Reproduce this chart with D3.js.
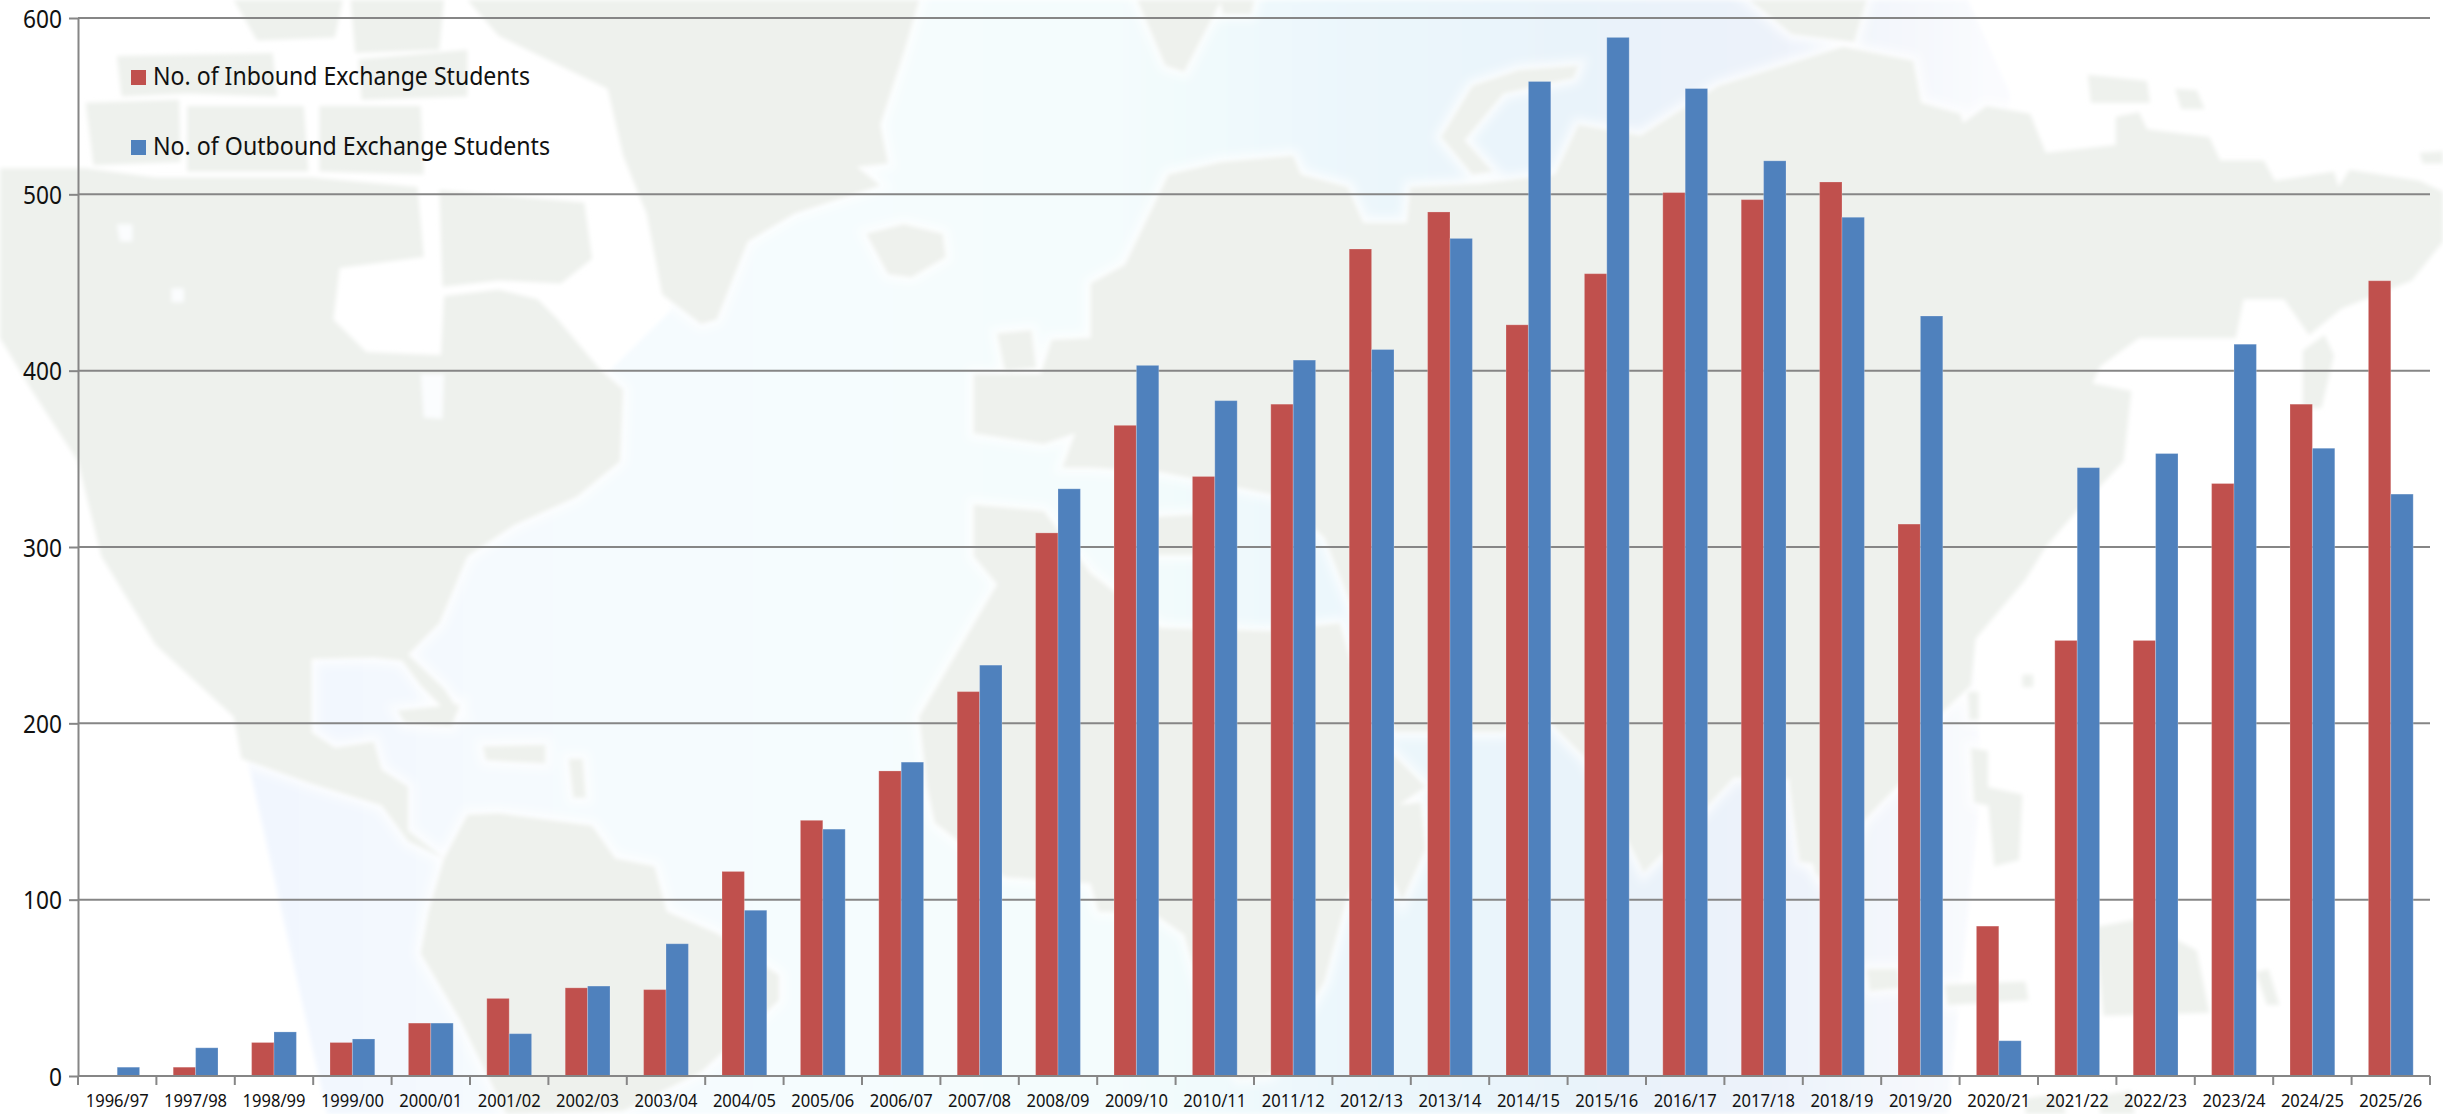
<!DOCTYPE html>
<html>
<head>
<meta charset="utf-8">
<style>
  html, body { margin: 0; background: #fff; }
  text { font-family: "Noto Sans", sans-serif; fill: #111; }
  .axis path, .axis line { stroke: #868686; stroke-width: 2px; }
</style>
<script src="https://cdn.jsdelivr.net/npm/d3@7"></script>
</head>
<body>
<svg id="chart" width="2443" height="1114"></svg>
<script>
const years = ["1996/97","1997/98","1998/99","1999/00","2000/01","2001/02","2002/03","2003/04","2004/05","2005/06",
  "2006/07","2007/08","2008/09","2009/10","2010/11","2011/12","2012/13","2013/14","2014/15","2015/16",
  "2016/17","2017/18","2018/19","2019/20","2020/21","2021/22","2022/23","2023/24","2024/25","2025/26"];
const inbound = [0,5,19,19,30,44,50,49,116,145,173,218,308,369,340,381,469,490,426,455,501,497,507,313,85,247,247,336,381,451];
const outbound = [5,16,25,21,30,24,51,75,94,140,178,233,333,403,383,406,412,475,564,589,560,519,487,431,20,345,353,415,356,330];
const seriesNames = ["No. of Inbound Exchange Students", "No. of Outbound Exchange Students"];
const seriesColors = ["#c0504d", "#4f81bd"];
const yTicks = [0,100,200,300,400,500,600];

// faded world map behind the chart, traced by hand (coordinates on a 1568 wide picture)
const oceanShape = [[155,470],[210,715],[1250,715],[1272,500],[1258,300],[1290,60],[1263,0],[480,0],[430,200]];
const landShapes = [
  // north america
  [[0,108],[55,108],[100,114],[200,114],[268,120],[272,165],[218,172],[214,205],[235,226],[283,228],[285,190],[320,186],[345,192],[358,205],[385,237],[400,250],[398,296],[370,319],[330,337],[300,357],[282,400],[262,420],[285,442],[295,457],[285,455],[270,440],[258,424],[240,422],[200,423],[200,470],[215,480],[240,476],[245,494],[262,505],[262,533],[285,551],[262,540],[245,517],[200,503],[155,487],[150,460],[100,414],[65,357],[50,296],[20,250],[0,217]],
  // arctic islands
  [[282,122],[375,130],[380,166],[360,182],[320,180],[284,184]],
  [[55,66],[115,64],[116,104],[60,106]],
  [[75,36],[175,34],[178,62],[120,60],[78,62]],
  [[150,0],[220,0],[215,24],[165,26]],
  [[120,68],[195,68],[198,110],[120,110]],
  [[205,68],[270,68],[272,112],[205,110]],
  [[230,38],[300,32],[300,62],[232,64]],
  [[225,0],[285,0],[282,32],[228,34]],
  // greenland, iceland
  [[300,0],[590,0],[580,34],[565,80],[570,105],[550,107],[565,119],[510,137],[480,155],[460,205],[450,208],[425,189],[415,137],[410,125],[400,100],[390,57],[320,23]],
  [[556,150],[580,144],[605,150],[607,165],[585,178],[570,176]],
  // south america
  [[300,523],[320,522],[350,526],[380,530],[395,551],[420,556],[428,585],[460,599],[500,626],[500,642],[475,665],[450,688],[400,713],[325,715],[295,654],[270,612],[275,585],[285,551]],
  // caribbean
  [[255,456],[295,452],[290,466],[260,464]],
  [[310,479],[350,478],[350,490],[312,488]],
  [[365,487],[374,487],[376,512],[368,512]],
  // africa
  [[625,324],[670,328],[700,368],[745,403],[815,405],[860,400],[880,470],[915,505],[893,520],[865,575],[850,630],[815,690],[795,692],[775,650],[760,600],[740,586],[705,585],[700,567],[645,563],[600,528],[595,505],[590,460],[640,375],[625,357]],
  // eurasia
  [[625,240],[668,240],[675,218],[700,217],[700,182],[722,170],[750,112],[784,104],[830,100],[835,112],[865,120],[875,143],[903,143],[905,120],[950,118],[998,112],[1013,80],[1053,87],[1103,55],[1183,30],[1228,39],[1233,66],[1258,73],[1260,79],[1275,68],[1303,73],[1313,98],[1358,93],[1358,75],[1373,72],[1378,83],[1418,88],[1425,103],[1453,103],[1460,116],[1498,110],[1501,120],[1508,109],[1553,116],[1568,123],[1568,155],[1548,180],[1503,198],[1482,215],[1466,192],[1440,192],[1435,217],[1373,217],[1348,235],[1343,246],[1368,251],[1363,296],[1333,328],[1313,351],[1300,372],[1268,410],[1265,440],[1235,468],[1222,500],[1195,528],[1178,575],[1165,560],[1150,500],[1113,499],[1070,545],[1055,560],[1040,530],[1018,487],[998,467],[985,447],[965,470],[895,470],[872,400],[850,345],[820,318],[745,303],[700,300],[682,300],[690,278],[670,285],[625,278]],
  // uk, scandinavia leftovers
  [[640,214],[662,212],[665,236],[645,238]],
  [[730,0],[784,0],[760,46],[748,42]],
  [[738,332],[770,330],[772,356],[742,356]],
  // novaya zemlya, arctic russia
  [[1013,42],[1010,50],[965,60],[940,90],[958,110],[945,112],[925,88],[945,55],[975,45]],
  [[1123,0],[1198,0],[1190,27],[1150,22]],
  [[1340,48],[1378,52],[1380,66],[1342,66]],
  [[1396,57],[1410,58],[1415,70],[1400,70]],
  [[1553,98],[1568,97],[1568,105],[1555,105]],
  [[783,0],[805,0],[803,9],[785,9]],
  // japan
  [[1478,225],[1492,215],[1498,228],[1490,262],[1478,262]],
  // south east asia, australia, nz
  [[893,517],[912,515],[915,545],[900,578],[892,560]],
  [[1275,505],[1298,510],[1296,552],[1280,556]],
  [[1265,480],[1276,482],[1276,517],[1267,515]],
  [[1263,444],[1270,444],[1270,462],[1264,462]],
  [[1298,433],[1305,433],[1305,441],[1298,441]],
  [[1148,500],[1165,505],[1168,555],[1155,553]],
  [[1198,622],[1218,622],[1220,634],[1200,636]],
  [[1248,632],[1300,630],[1302,642],[1250,645]],
  [[1345,595],[1372,590],[1410,610],[1418,650],[1350,652]],
  [[1448,624],[1456,622],[1463,645],[1455,645]],
  [[1300,705],[1322,702],[1326,715],[1300,715]],
  [[1348,703],[1368,700],[1370,715],[1348,715]]
];
// channels and lakes cut back out of the land
const waterShapes = [
  [[270,240],[285,240],[284,269],[272,268]],
  [[75,144],[85,144],[85,155],[77,155]],
  [[110,185],[118,185],[118,194],[110,194]]
];

const svg = d3.select("#chart");
const mapScale = 2443 / 1568;

const margin = { left: 78, right: 2430, top: 18, bottom: 1076 };

const x0 = d3.scaleBand().domain(years).range([margin.left, margin.right]).paddingInner(0.4286).paddingOuter(0.2143);
const x1 = d3.scaleBand().domain([0, 1]).range([0, x0.bandwidth()]);
const y = d3.scaleLinear().domain([0, 600]).range([margin.bottom, margin.top]);

// background
const defs = svg.append("defs");
const grad = defs.append("linearGradient").attr("id", "sea")
  .attr("gradientUnits", "userSpaceOnUse")
  .attr("x1", 155 * mapScale).attr("x2", 1280 * mapScale).attr("y1", 0).attr("y2", 0);
[[0, "#f1f6fe"], [0.15, "#f5fafe"], [0.3, "#f5fcfe"], [0.5, "#f4fcfd"], [0.62, "#ecf7fc"], [0.76, "#e9f3fa"], [0.87, "#ecf2fa"], [1, "#fafbfe"]]
  .forEach(s => grad.append("stop").attr("offset", s[0]).attr("stop-color", s[1]));
defs.append("filter").attr("id", "soft").append("feGaussianBlur").attr("stdDeviation", 2);
defs.append("filter").attr("id", "halo").append("feGaussianBlur").attr("stdDeviation", 5);

const poly = d3.line().x(d => d[0] * mapScale).y(d => d[1] * mapScale);
const map = svg.append("g");

map.append("path").attr("d", poly(oceanShape) + "Z").attr("fill", "url(#sea)").attr("filter", "url(#soft)");
map.append("g").attr("filter", "url(#halo)").selectAll("path").data(landShapes).enter().append("path")
  .attr("d", d => poly(d) + "Z")
  .attr("fill", "#fff").attr("stroke", "#fff").attr("stroke-width", 14).attr("stroke-opacity", 0.6);
const landLayer = map.append("g").attr("filter", "url(#soft)");
landLayer.selectAll("path.land").data(landShapes).enter().append("path").attr("class", "land")
  .attr("d", d => poly(d) + "Z")
  .attr("fill", "#eef1ed");
landLayer.selectAll("path.water").data(waterShapes).enter().append("path").attr("class", "water")
  .attr("d", d => poly(d) + "Z")
  .attr("fill", "#fbfdfe");

// gridlines
svg.append("g").selectAll("line").data(yTicks.slice(1)).enter().append("line")
  .attr("x1", margin.left).attr("x2", margin.right)
  .attr("y1", d => y(d)).attr("y2", d => y(d))
  .attr("stroke", "#868686").attr("stroke-width", 2);

// bars
[inbound, outbound].forEach((values, s) => {
  svg.append("g").selectAll("rect").data(values).enter().append("rect")
    .attr("x", (d, i) => x0(years[i]) + x1(s))
    .attr("y", d => y(d))
    .attr("width", x1.bandwidth())
    .attr("height", d => y(0) - y(d))
    .attr("fill", seriesColors[s])
    .attr("stroke", "#fff").attr("stroke-opacity", 0.22).attr("stroke-width", 1);
});

// axes
const yAxis = svg.append("g").attr("class", "axis").attr("transform", `translate(${margin.left},0)`)
  .call(d3.axisLeft(y).tickValues(yTicks).tickSize(9).tickSizeOuter(0).tickPadding(7));
yAxis.selectAll("text").attr("font-size", 25).attr("dy", "0.36em").style("font-family", '"Noto Sans", sans-serif')
  .attr("textLength", 39).attr("lengthAdjust", "spacingAndGlyphs");
yAxis.selectAll("text").filter(d => d === 0).attr("textLength", 13);

// x ticks sit on the band edges, so the axis lines get drawn by hand from the scale
const xAxis = svg.append("g").attr("class", "axis");
xAxis.append("line").attr("x1", margin.left).attr("x2", margin.right).attr("y1", y(0)).attr("y2", y(0));
const step = x0.step();
xAxis.selectAll("line.tick").data(d3.range(years.length + 1)).enter().append("line").attr("class", "tick")
  .attr("x1", i => margin.left + i * step).attr("x2", i => margin.left + i * step)
  .attr("y1", y(0)).attr("y2", y(0) + 9);
xAxis.selectAll("text").data(years).enter().append("text")
  .attr("x", d => x0(d) + x0.bandwidth() / 2)
  .attr("y", 1107)
  .attr("text-anchor", "middle")
  .attr("font-size", 18)
  .attr("textLength", 63).attr("lengthAdjust", "spacingAndGlyphs")
  .text(d => d);

// legend
const legend = svg.append("g");
seriesNames.forEach((name, i) => {
  const top = 70 + i * 70;
  legend.append("rect").attr("x", 131).attr("y", top).attr("width", 15).attr("height", 15).attr("fill", seriesColors[i]);
  legend.append("text").attr("x", 153).attr("y", top + 15).attr("font-size", 25)
    .attr("textLength", i === 0 ? 377 : 397).attr("lengthAdjust", "spacingAndGlyphs")
    .text(name);
});
</script>
</body>
</html>
